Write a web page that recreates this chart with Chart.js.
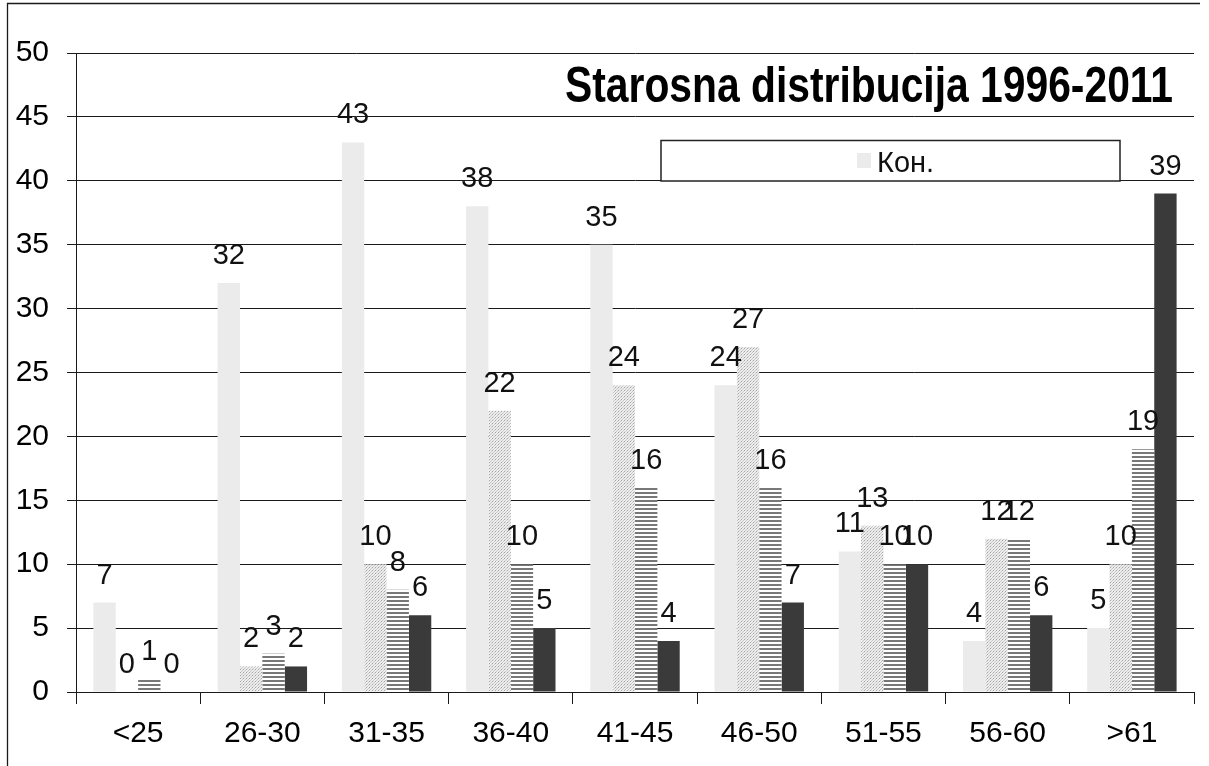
<!DOCTYPE html>
<html><head><meta charset="utf-8">
<script src="https://cdn.jsdelivr.net/npm/chart.js@4.4.0/dist/chart.umd.min.js"></script>
<style>html,body{margin:0;padding:0;background:#fff;overflow:hidden}#wrap{position:relative;width:1209px;height:766px}canvas{display:block}</style>
</head><body><div id="wrap"><canvas id="c" width="1209" height="766"></canvas></div>
<script>
// ---- data ----
const categories = ['<25', '26-30', '31-35', '36-40', '41-45', '46-50', '51-55', '56-60', '>61'];
const seriesNames = ['Кон.', 'S2', 'S3', 'S4'];
const series1 = [7, 32, 43, 38, 35, 24, 11, 4, 5];
const series2 = [0, 2, 10, 22, 24, 27, 13, 12, 10];
const series3 = [1, 3, 8, 10, 16, 16, 10, 12, 19];
const series4 = [0, 2, 6, 5, 4, 7, 10, 6, 39];
const yMin = 0, yMax = 50, yStep = 5;
const titleText = 'Starosna distribucija 1996-2011';
const legendLabel = seriesNames[0];

const FONT = '"Liberation Sans", Arial, sans-serif';
const canvas = document.getElementById('c');
const ctx = canvas.getContext('2d');

function makeStripes() {
  const t = document.createElement('canvas'); t.width = 4; t.height = 4;
  const g = t.getContext('2d');
  g.fillStyle = '#ffffff'; g.fillRect(0, 0, 4, 4);
  g.fillStyle = '#787878'; g.fillRect(0, 0, 4, 2);
  return ctx.createPattern(t, 'repeat');
}
function makeDots() {
  const t = document.createElement('canvas'); t.width = 3; t.height = 3;
  const g = t.getContext('2d');
  g.fillStyle = '#ededed'; g.fillRect(0, 0, 3, 3);
  g.fillStyle = '#a4a4a4'; g.fillRect(0, 0, 1, 1);
  g.fillStyle = '#c8c8c8'; g.fillRect(1, 2, 1, 1); g.fillRect(2, 1, 1, 1);
  return ctx.createPattern(t, 'repeat');
}

const fills = ['#ebebeb', makeDots(), makeStripes(), '#3a3a3a'];
const values = [series1, series2, series3, series4];

const labelPlugin = {
  id: 'barLabels',
  afterDatasetsDraw(chart) {
    const c = chart.ctx;
    c.save();
    c.font = '29px ' + FONT;
    c.fillStyle = '#111';
    c.textAlign = 'center';
    c.textBaseline = 'alphabetic';
    chart.data.datasets.forEach((ds, i) => {
      const meta = chart.getDatasetMeta(i);
      meta.data.forEach((el, j) => {
        c.fillText(String(ds.data[j]), el.x, el.y - 19);
      });
    });
    c.restore();
  }
};

const decorPlugin = {
  id: 'decor',
  afterDraw(chart) {
    const c = chart.ctx;
    c.save();
    // outer frame (top and left)
    c.strokeStyle = '#1a1a1a'; c.lineWidth = 1.3;
    c.beginPath(); c.moveTo(7.5, 766); c.lineTo(7.5, 3.5); c.lineTo(1200, 3.5); c.stroke();
    // title
    c.font = 'bold 50px ' + FONT;
    c.fillStyle = '#000';
    c.textBaseline = 'alphabetic';
    c.textAlign = 'left';
    const w = c.measureText(titleText).width;
    const target = 608;
    c.save();
    c.translate(565, 102);
    c.scale(target / w, 1);
    c.fillText(titleText, 0, 0);
    c.restore();
    // legend box
    c.fillStyle = '#fff';
    c.fillRect(661, 140, 459, 41);
    c.strokeStyle = '#222'; c.lineWidth = 1.5;
    c.strokeRect(661, 140.5, 459, 40.5);
    c.fillStyle = fills[0];
    c.fillRect(857, 153, 14, 15);
    c.fillStyle = '#111';
    c.font = '29px ' + FONT;
    c.fillText(legendLabel, 877, 172);
    c.restore();
  }
};

new Chart(canvas, {
  type: 'bar',
  data: {
    labels: categories,
    datasets: values.map((v, i) => ({
      label: seriesNames[i],
      data: v,
      backgroundColor: fills[i],
      borderWidth: 0,
      categoryPercentage: 0.72,
      barPercentage: 1.0
    }))
  },
  options: {
    responsive: false,
    devicePixelRatio: 1,
    animation: false,
    layout: { padding: { top: 53, right: 15, left: 0, bottom: 0 } },
    plugins: { legend: { display: false }, title: { display: false }, tooltip: { enabled: false } },
    scales: {
      x: {
        offset: true,
        grid: { display: true, drawOnChartArea: false, offset: true, tickLength: 12, color: '#1a1a1a', lineWidth: 1 },
        border: { display: true, color: '#1a1a1a', width: 1 },
        ticks: { font: { family: FONT, size: 30 }, color: '#000', padding: 12, maxRotation: 0, autoSkip: false },
        afterFit(s) { s.height = 74; }
      },
      y: {
        min: yMin, max: yMax,
        grid: { color: '#1a1a1a', lineWidth: 1, tickLength: 9 },
        border: { display: true, color: '#1a1a1a', width: 1 },
        ticks: { stepSize: yStep, font: { family: FONT, size: 30 }, color: '#000', padding: 18 },
        afterFit(s) { s.width = 76; }
      }
    }
  },
  plugins: [labelPlugin, decorPlugin]
});
</script>
</body></html>
